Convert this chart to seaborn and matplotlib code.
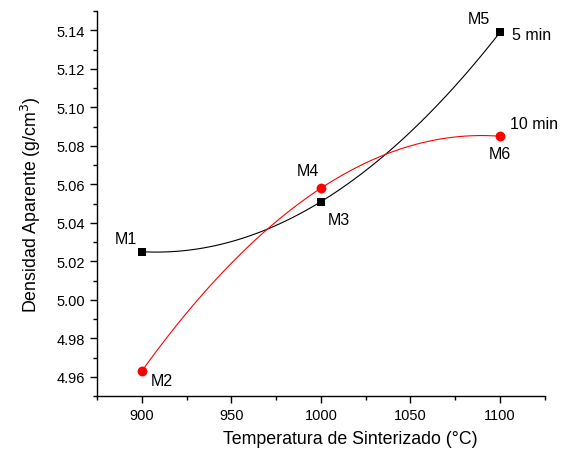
import numpy as np
import pandas as pd
import matplotlib
matplotlib.use("Agg")
import matplotlib.pyplot as plt
import seaborn as sns
from matplotlib.ticker import MultipleLocator

temps = [900, 1000, 1100]
dens_5min = [5.025, 5.051, 5.139]
dens_10min = [4.963, 5.058, 5.085]
labels_5min = ["M1", "M3", "M5"]
labels_10min = ["M2", "M4", "M6"]

sns.set_theme(style="ticks")
plt.rcParams['font.family'] = ['Liberation Sans', 'DejaVu Sans']
plt.rcParams['text.color'] = 'black'
plt.rcParams['axes.labelcolor'] = 'black'

fig = plt.figure(figsize=(5.71, 4.52), dpi=100)
ax = fig.add_axes([0.170, 0.1217, 0.784, 0.8513])

df5 = pd.DataFrame({"T": temps, "D": dens_5min})
df10 = pd.DataFrame({"T": temps, "D": dens_10min})

sns.regplot(data=df5, x="T", y="D", order=2, ci=None, ax=ax, marker="s",
            color="black", scatter_kws=dict(s=36, zorder=3, linewidths=0, alpha=1),
            line_kws=dict(lw=0.8, color="black"))
sns.regplot(data=df10, x="T", y="D", order=2, ci=None, ax=ax, marker="o",
            color="red", scatter_kws=dict(s=50, zorder=3, linewidths=0, alpha=1),
            line_kws=dict(lw=0.8, color="red"))

ax.set_xlim(875, 1125)
ax.set_ylim(4.95, 5.15)
ax.xaxis.set_major_locator(MultipleLocator(50))
ax.xaxis.set_minor_locator(MultipleLocator(25))
ax.yaxis.set_major_locator(MultipleLocator(0.02))
ax.yaxis.set_minor_locator(MultipleLocator(0.01))
ax.yaxis.set_major_formatter(matplotlib.ticker.FormatStrFormatter('%.2f'))
ax.tick_params(which='major', direction='out', length=5, width=1, labelsize=10.5,
               colors='black', labelcolor='black')
ax.tick_params(which='minor', direction='out', length=3, width=1, colors='black')
for s in ['top', 'right']:
    ax.spines[s].set_visible(False)
for s in ['left', 'bottom']:
    ax.spines[s].set_linewidth(1)
    ax.spines[s].set_color('black')

ax.set_xlabel("Temperatura de Sinterizado (°C)", fontsize=12.75, labelpad=5, color='black')
ax.xaxis.set_label_coords(0.565, -0.088)
ax.set_ylabel("Densidad Aparente (g/cm$^3$)", fontsize=12.75, labelpad=10, color='black')

fs = 11.5
ax.text(891, 5.032, labels_5min[0], ha='center', va='center', fontsize=fs)
ax.text(911, 4.958, labels_10min[0], ha='center', va='center', fontsize=fs)
ax.text(1010, 5.0415, labels_5min[1], ha='center', va='center', fontsize=fs)
ax.text(993, 5.067, labels_10min[1], ha='center', va='center', fontsize=fs)
ax.text(1088, 5.146, labels_5min[2], ha='center', va='center', fontsize=fs)
ax.text(1100, 5.076, labels_10min[2], ha='center', va='center', fontsize=fs)
ax.text(1106.5, 5.138, "5 min", ha='left', va='center', fontsize=fs)
ax.text(1105.5, 5.0915, "10 min", ha='left', va='center', fontsize=fs)

fig.savefig("out.png", dpi=100)
